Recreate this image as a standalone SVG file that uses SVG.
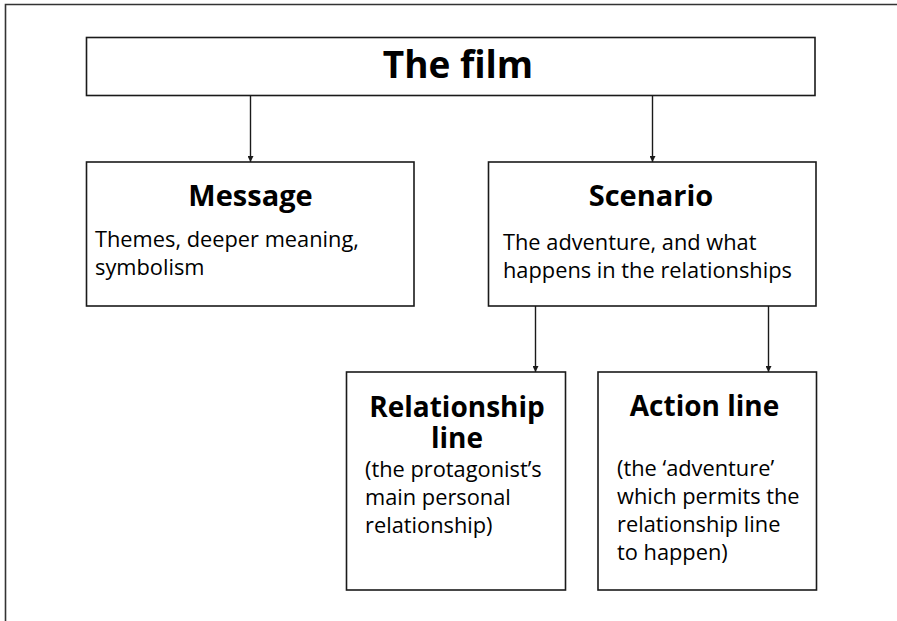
<svg xmlns="http://www.w3.org/2000/svg" width="897" height="621" viewBox="0 0 897 621">
  <style>
    .box { fill: #ffffff; stroke: #1a1a1a; stroke-width: 1.6; }
    .frame { fill: none; stroke: #333333; stroke-width: 1.6; }
    .link { fill: none; stroke: #1a1a1a; stroke-width: 1.4; marker-end: url(#tip); }
    .head { font-family: "Open Sans", "Noto Sans", "Liberation Sans", sans-serif; font-weight: bold; font-size: 29px; fill: #000000; text-anchor: middle; }
    .title { font-size: 37px; }
    .narrow { font-size: 28px; }
    .body { font-family: "Open Sans", "Noto Sans", "Liberation Sans", sans-serif; font-size: 21.8px; fill: #000000; }
  </style>
  <defs>
    <marker id="tip" viewBox="0 0 6 6" refX="6" refY="3" markerWidth="6" markerHeight="6" markerUnits="userSpaceOnUse" orient="auto">
      <path d="M0,0 L6,3 L0,6 Z" fill="#1a1a1a"/>
    </marker>
  </defs>

  <rect width="897" height="621" fill="#ffffff"/>
  <!-- outer page frame (top and left edges) -->
  <path class="frame" d="M5.5,621 V4.5 H897"/>

  <!-- connectors -->
  <g id="connectors">
    <line class="link" x1="250.5" y1="96" x2="250.5" y2="162"/>
    <line class="link" x1="652.5" y1="96" x2="652.5" y2="162"/>
    <line class="link" x1="535.5" y1="306" x2="535.5" y2="372"/>
    <line class="link" x1="768.5" y1="306" x2="768.5" y2="372"/>
  </g>

  <g id="film">
    <rect class="box" x="86.5" y="37.5" width="728.5" height="58"/>
    <text class="head title" x="458" y="78">The film</text>
  </g>

  <g id="message">
    <rect class="box" x="86.5" y="162" width="327.5" height="144"/>
    <text class="head" x="250.5" y="206">Message</text>
    <text class="body" x="95" y="247">Themes, deeper meaning,</text>
    <text class="body" x="95" y="275">symbolism</text>
  </g>

  <g id="scenario">
    <rect class="box" x="488.5" y="162" width="327.5" height="144"/>
    <text class="head" x="651" y="206">Scenario</text>
    <text class="body" x="503" y="250">The adventure, and what</text>
    <text class="body" x="503" y="278">happens in the relationships</text>
  </g>

  <g id="relationship-line">
    <rect class="box" x="346.5" y="372" width="219" height="218"/>
    <text class="head narrow" x="457" y="417">Relationship</text>
    <text class="head narrow" x="457" y="448">line</text>
    <text class="body" x="365" y="477">(the protagonist’s</text>
    <text class="body" x="365" y="505">main personal</text>
    <text class="body" x="365" y="533">relationship)</text>
  </g>

  <g id="action-line">
    <rect class="box" x="598" y="372" width="218.5" height="218"/>
    <text class="head narrow" x="704.5" y="416">Action line</text>
    <text class="body" x="617" y="476">(the ‘adventure’</text>
    <text class="body" x="617" y="504">which permits the</text>
    <text class="body" x="617" y="532">relationship line</text>
    <text class="body" x="617" y="560">to happen)</text>
  </g>
</svg>
